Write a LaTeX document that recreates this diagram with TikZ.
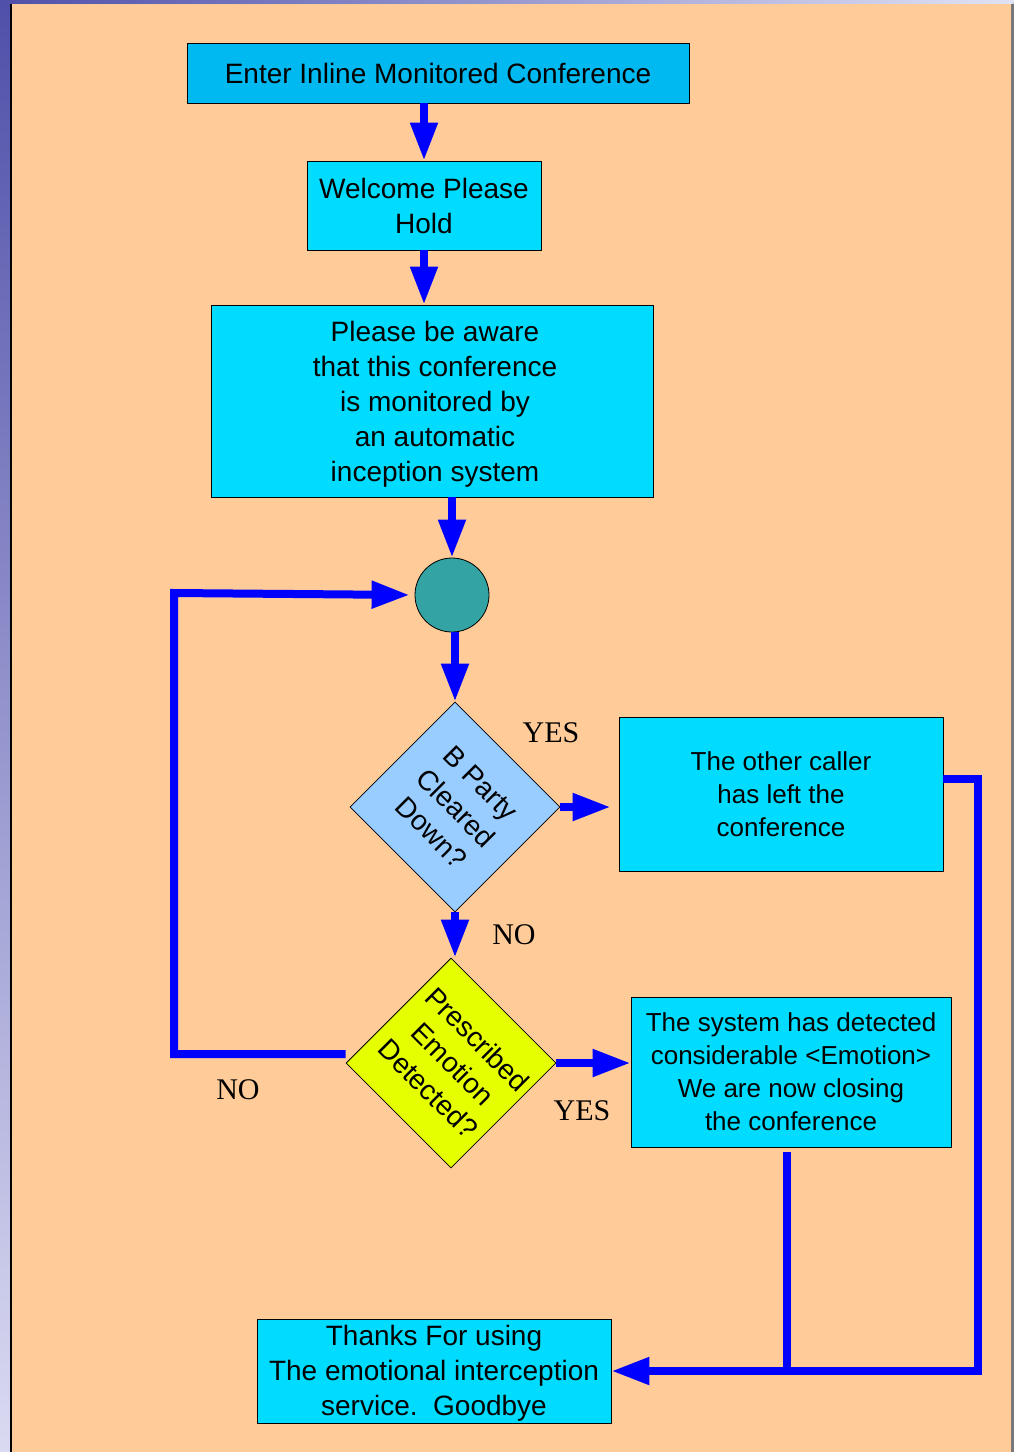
\documentclass[tikz,border=0pt]{standalone}
\usepackage{fontspec}
\setmainfont{Liberation Sans}
\newfontfamily\answerfont{Liberation Serif}
\usetikzlibrary{arrows.meta,shapes.geometric}

\definecolor{peach}{RGB}{255,204,153}
\definecolor{headbox}{RGB}{0,185,240}
\definecolor{stepcyan}{RGB}{0,220,255}
\definecolor{askblue}{RGB}{153,204,255}
\definecolor{asklime}{RGB}{230,255,0}
\definecolor{hubteal}{RGB}{51,163,163}
\definecolor{flowblue}{RGB}{0,0,255}
\definecolor{edgeTop}{RGB}{80,80,170}
\definecolor{edgeBot}{RGB}{218,218,242}
\definecolor{rimgray}{RGB}{120,120,120}

\begin{document}
\begin{tikzpicture}[x=1pt,y=-1pt,
  stepbox/.style={draw=black, line width=0.8pt, fill=stepcyan, inner sep=0pt,
    align=center, font=\fontsize{28}{35}\selectfont},
  smallbox/.style={stepbox, font=\fontsize{26}{33}\selectfont},
  boxtext/.style={inner sep=0pt, align=center, font=\fontsize{28}{35}\selectfont},
  ask/.style={diamond, draw=black, line width=0.8pt, inner sep=0pt,
    minimum width=210pt, minimum height=210pt},
  asktext/.style={align=center, inner sep=0pt, rotate=-45,
    font=\fontsize{28}{35}\selectfont},
  answer/.style={inner sep=0pt, font=\answerfont\fontsize{30}{36}\selectfont},
  link/.style={draw=flowblue, line width=8pt},
  flow/.style={link, -{Triangle[length=38pt,width=26pt]}}
]
\useasboundingbox (0,0) rectangle (1017,1452);

% page background
\fill[white] (0,0) rectangle (1017,1452);
\shade[top color=edgeTop, bottom color=edgeBot] (0,0) rectangle (10,1452);
\fill[black] (10,0) rectangle (11.5,1452);
\fill[peach] (11.5,3) rectangle (1011,1452);
\fill[rimgray] (1011,3) rectangle (1013.5,1452);
\shade[left color=edgeTop, right color=edgeBot!80!white] (0,0) rectangle (1013.5,3);

% process boxes
\node[stepbox, fill=headbox, minimum width=502pt, minimum height=60pt] (b1) at (438,73)
  {Enter Inline Monitored Conference};
\node[stepbox, minimum width=234pt, minimum height=89pt] (b2) at (424,205.5)
  {Welcome Please\\Hold};
\node[stepbox, minimum width=442pt, minimum height=192pt] (b3) at (432,401) {};
\node[boxtext] (b3t) at (435,404)
  {Please be aware\\that this conference\\is monitored by\\an automatic\\inception system};
\node[circle, draw=black, line width=0.8pt, fill=hubteal, minimum size=74pt, inner sep=0pt] (c) at (452,595) {};

% decisions
\node[ask, fill=askblue] (d1) at (455,807) {};
\node[asktext] (d1t) at (456,808) {B Party\\Cleared\\Down?};
\node[ask, fill=asklime] (d2) at (451,1063) {};
\node[asktext] (d2t) at (453,1064) {Prescribed\\Emotion\\Detected?};

\node[smallbox, minimum width=324pt, minimum height=154pt] (b4) at (781,794)
  {The other caller\\has left the\\conference};
\node[smallbox, minimum width=320pt, minimum height=150pt] (b5) at (791,1072)
  {The system has detected\\considerable <Emotion>\\We are now closing\\the conference};
\node[stepbox, minimum width=354pt, minimum height=104pt] (b6) at (434,1371) {};
\node[boxtext] (b6t) at (434,1373.5)
  {Thanks For using\\The emotional interception\\service.\ \ Goodbye};

% branch labels
\node[answer] (y1) at (551,733) {YES};
\node[answer] (n1) at (514,935) {NO};
\node[answer] (n2) at (238,1090) {NO};
\node[answer] (y2) at (582,1111) {YES};

% main flow
\draw[flow] (b1.south -| b2.north) -- (b2.north);
\draw[flow] (b2.south) -- (b2.south |- b3.north);
\draw[flow] (b3.south -| c.north) -- (c.north);
\draw[flow] (c.south -| d1.north) -- (d1.north);
\draw[flow, shorten >=8pt] (d1.east) -- (d1.east -| b4.west);
\draw[flow] (d1.south) -- (d1.south |- d2.north);
\draw[flow] (d2.east) -- (d2.east -| b5.west);

% loop back to the hub
\coordinate (loopcorner) at (174,593);
\draw[flow, shorten >=5pt] ([yshift=9pt]d2.west) -| (loopcorner) -- (c.west);

% both endings lead to the goodbye box
\coordinate (rtop) at (978,779);
\coordinate (rbot) at (978,1371);
\coordinate (join) at (787,1371);
\draw[flow] (b4.east |- rtop) -- (rtop) -- (rbot) -- (b6.east);
\draw[link, shorten <=5pt] (b5.south -| join) -- (join);
\end{tikzpicture}
\end{document}
